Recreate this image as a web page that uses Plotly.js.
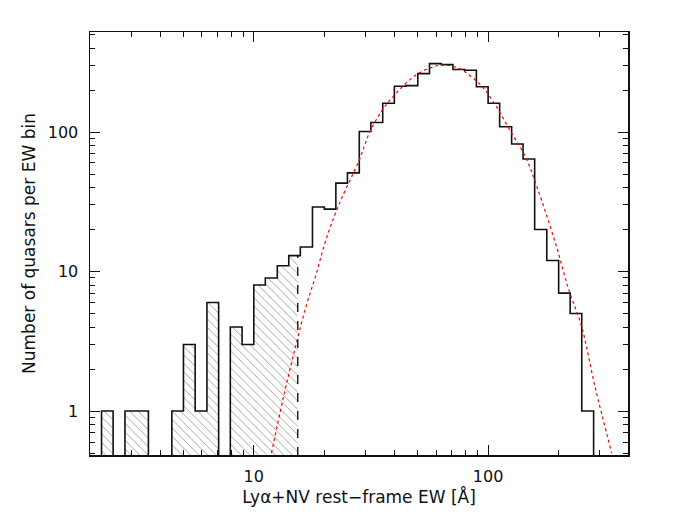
<!DOCTYPE html>
<html>
<head>
<meta charset="utf-8">
<script src="https://cdn.plot.ly/plotly-3.0.1.min.js"></script>
<style>body{margin:0;background:#fff}#chart{width:683px;height:520px}</style>
</head>
<body>
<div id="chart"></div>
<script>
// histogram: left bin edges in Angstrom (0.05 dex bins) + last right edge
var binEdges = [2.24, 2.51, 2.82, 3.16, 3.55, 3.98, 4.47, 5.01, 5.62, 6.31,
  7.08, 7.94, 8.91, 10.0, 11.2, 12.6, 14.1, 15.8, 17.8, 20.0,
  22.4, 25.1, 28.2, 31.6, 35.5, 39.8, 44.7, 50.1, 56.2, 63.1,
  70.8, 79.4, 89.1, 100, 112, 126, 141, 158, 178, 200,
  224, 251, 282];
var counts = [1, 0, 1, 1, 0, 0, 1, 3, 1, 6,
  0, 4, 3, 8, 9, 11, 13, 15, 29, 28,
  43, 51, 101, 117, 161, 213, 215, 262, 309, 304,
  281, 277, 211, 161, 109, 82, 64, 20, 12, 7,
  5, 1];

// EW cut (dashed line), everything left of it is hatched
var cutEW = 15.4;

// red dotted lognormal fit
var fitEW = [11.9, 13.3, 14.7, 16.7, 18.5, 20.3, 23.2, 28.2, 31.1, 35.4,
  40.4, 49.1, 56.0, 63.7, 75.0, 91.4, 104, 126, 144, 162,
  194, 221, 251, 286, 337];
var fitN = [0.50, 1.2, 2.45, 5.6, 9.7, 16.8, 30.8, 63, 98, 144,
  189, 256, 286, 302, 286, 223, 170, 98, 67, 40,
  15.9, 7.4, 4.0, 1.49, 0.50];

var FLOOR = 0.01; // stand-in for empty bins on the log axis

function stepXY(edges, vals, nBins, endX){
  var x = [edges[0]], y = [FLOOR];
  for(var i = 0; i < nBins; i++){
    x.push(edges[i]);
    y.push(vals[i] > 0 ? vals[i] : FLOOR);
  }
  x.push(endX);
  y.push(FLOOR);
  return {x: x, y: y};
}

var nCut = 0;
while(binEdges[nCut] < cutEW) nCut++;

var full = stepXY(binEdges, counts, counts.length, binEdges[binEdges.length-1]);
var hatch = stepXY(binEdges, counts, nCut, cutEW);

var data = [
  {
    x: hatch.x, y: hatch.y, type: 'scatter', mode: 'lines',
    line: {shape: 'hv', width: 0, color: 'rgba(0,0,0,0)'},
    fill: 'toself', fillcolor: 'white',
    fillpattern: {shape: '\\', fgcolor: '#8c8c8c', bgcolor: 'white', size: 6, solidity: 0.13},
    hoverinfo: 'skip'
  },
  {
    x: [cutEW, cutEW], y: [FLOOR, counts[nCut-1]], type: 'scatter', mode: 'lines',
    line: {color: '#222', width: 1.5, dash: 'dash'}
  },
  {
    x: full.x, y: full.y, type: 'scatter', mode: 'lines',
    line: {shape: 'hv', color: '#111', width: 1.6}
  },
  {
    x: fitEW, y: fitN, type: 'scatter', mode: 'lines',
    line: {shape: 'spline', color: 'red', width: 1.2, dash: 'dot'}
  }
];

var titleFont = {family: 'DejaVu Sans, sans-serif', size: 17, color: '#111'};
var tickFont = {family: 'DejaVu Sans, sans-serif', size: 16, color: '#111'};

var layout = {
  width: 683, height: 520,
  margin: {l: 90, r: 55, t: 32, b: 65},
  paper_bgcolor: 'white', plot_bgcolor: 'white',
  showlegend: false,
  font: titleFont,
  xaxis: {
    type: 'log', range: [0.301, 2.597],
    dtick: 1, tick0: 0,
    ticks: 'inside', ticklen: 10, tickwidth: 1, tickcolor: '#111',
    minor: {ticks: 'inside', ticklen: 5, tickwidth: 1, tickcolor: '#111', showgrid: false},
    showline: true, linecolor: '#111', linewidth: 1.5, mirror: 'ticks',
    showgrid: false, zeroline: false,
    ticklabelstandoff: 6,
    tickfont: tickFont,
    title: {text: 'Ly\u03b1+NV rest\u2212frame EW [\u00c5]', font: titleFont, standoff: 6}
  },
  yaxis: {
    type: 'log', range: [-0.315, 2.717],
    dtick: 1, tick0: 0,
    ticks: 'inside', ticklen: 10, tickwidth: 1, tickcolor: '#111',
    minor: {ticks: 'inside', ticklen: 5, tickwidth: 1, tickcolor: '#111', showgrid: false},
    showline: true, linecolor: '#111', linewidth: 1.5, mirror: 'ticks',
    showgrid: false, zeroline: false,
    ticklabelstandoff: 7,
    tickfont: tickFont,
    title: {text: 'Number of quasars per EW bin', font: titleFont, standoff: 8}
  }
};

Plotly.newPlot('chart', data, layout, {displayModeBar: false, staticPlot: true});
</script>
</body>
</html>
